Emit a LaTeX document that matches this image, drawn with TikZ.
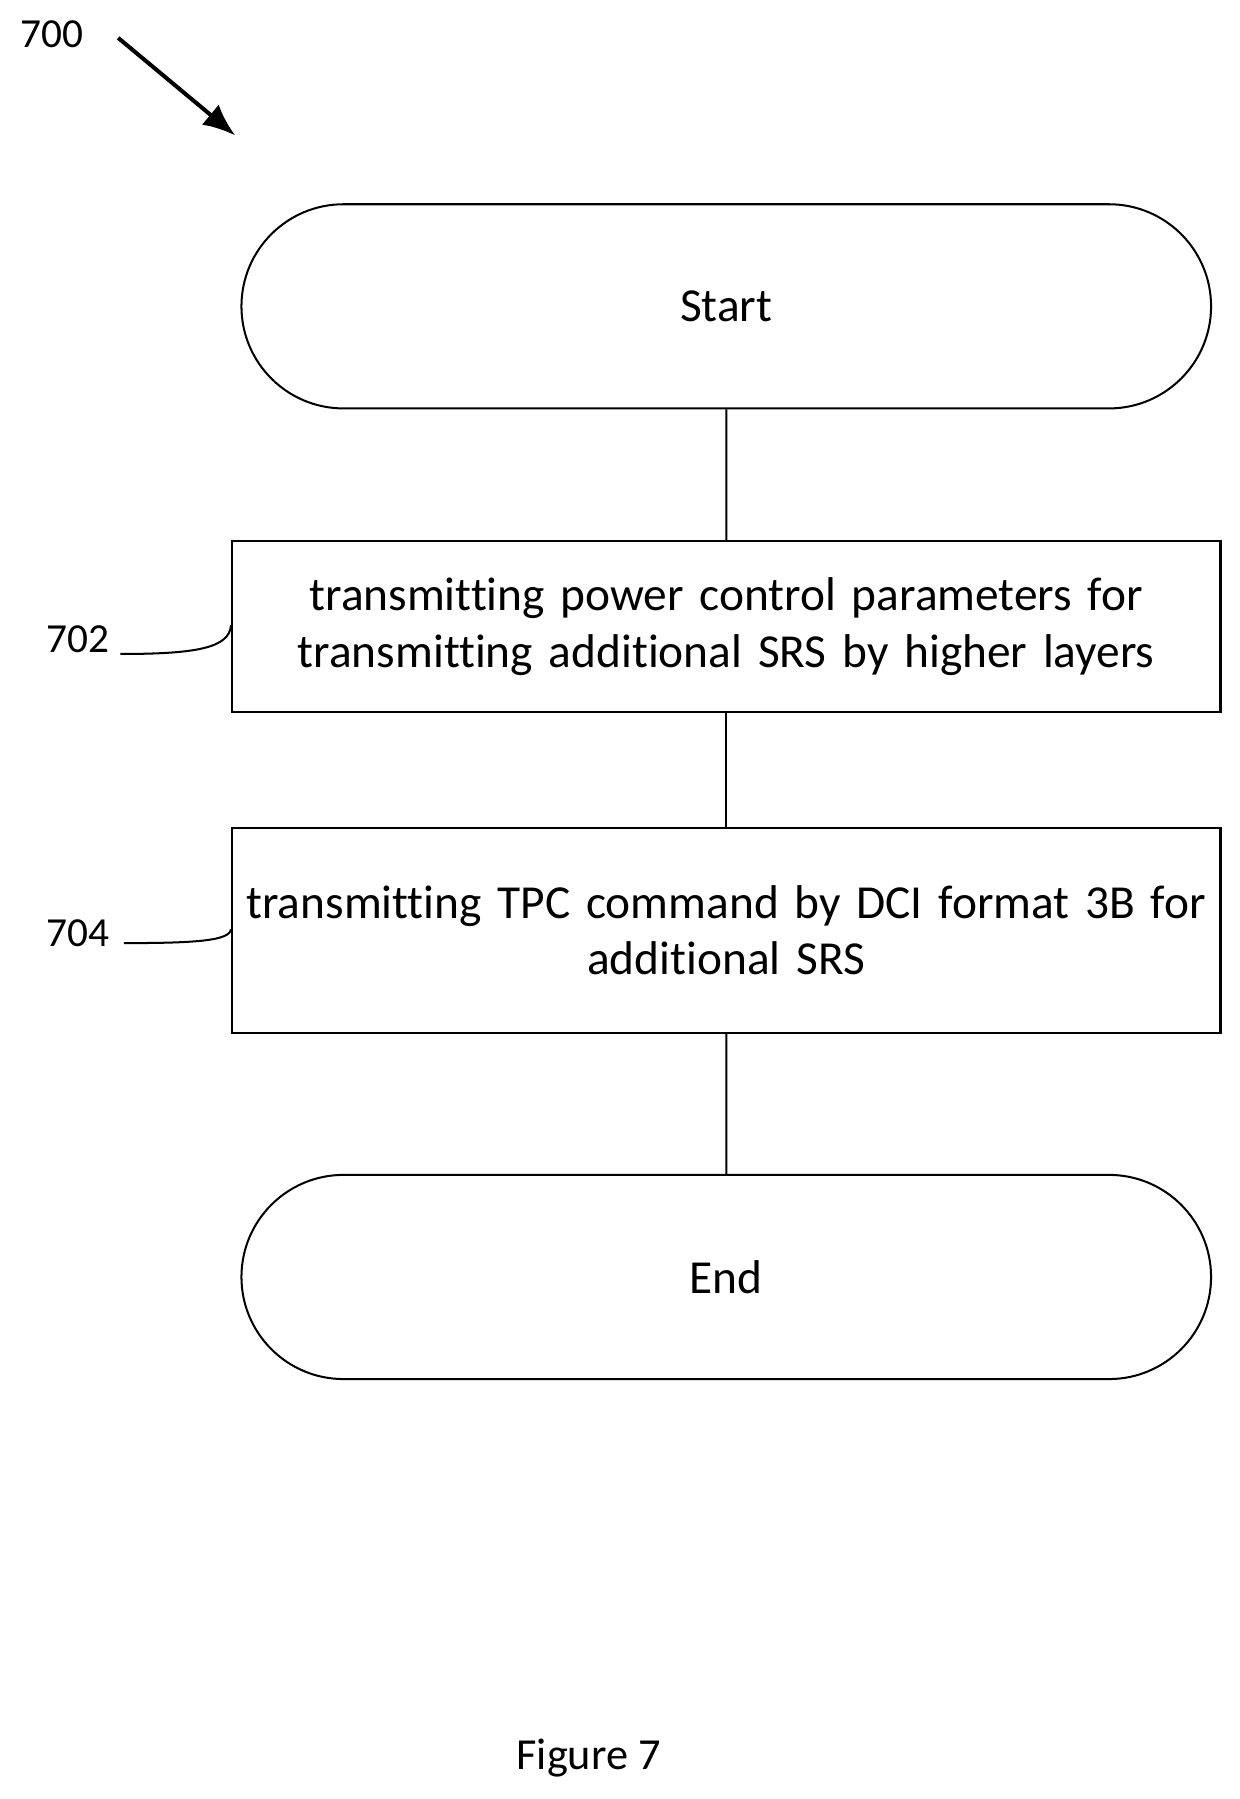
\documentclass[tikz,border=0pt]{standalone}
\usepackage{fontspec}
\setmainfont{Carlito}[Ligatures=NoCommon]
\usetikzlibrary{arrows.meta}
\usetikzlibrary{positioning}
\usetikzlibrary{shapes.misc}
\tikzset{
  terminal/.style={draw=black, line width=1pt, rounded rectangle, minimum width=17.14cm, minimum height=3.56cm, font=\fontsize{23.5}{28}\selectfont},
  process/.style={draw=black, line width=1pt, rectangle, minimum width=17.14cm, text width=17cm, align=center, font=\fontsize{23.5}{28}\selectfont},
  flow/.style={line width=1pt},
  ref/.style={font=\fontsize{20.5}{24}\selectfont}}
\begin{document}
\begin{tikzpicture}[x=0.02cm,y=-0.02cm]
\useasboundingbox (0,0) rectangle (1080,1568);

\node[terminal] (start) at (633,267) {Start};
\node[process, minimum height=2.98cm] (s702) at (633,546) {transmitting power control parameters for\\ transmitting additional SRS by higher layers};
\node[process, minimum height=3.56cm] (s704) at (633,811) {transmitting TPC command by DCI format 3B for\\ additional SRS};
\node[terminal] (end) at (633,1113) {End};

\draw[flow] (start) -- (s702);
\draw[flow] (s702) -- (s704);
\draw[flow] (s704) -- (end);

\node[ref] (l700) at (45,30) {700};
\coordinate (a700) at (205,118);
\draw[line width=2pt, -{Latex[length=16pt,width=13pt]}] (103,33) -- (a700);

\node[ref] (l702) at (68,557) {702};
\draw[flow] (105,570) .. controls (170,570) and (200,565) .. (s702.west |- 0,545);
\node[ref] (l704) at (68,813) {704};
\draw[flow] (108,822) .. controls (170,822) and (200,820) .. (s704.west |- 0,810);

\node[font=\fontsize{22}{26}\selectfont] (fig) at (513,1532) {Figure 7};
\end{tikzpicture}
\end{document}
